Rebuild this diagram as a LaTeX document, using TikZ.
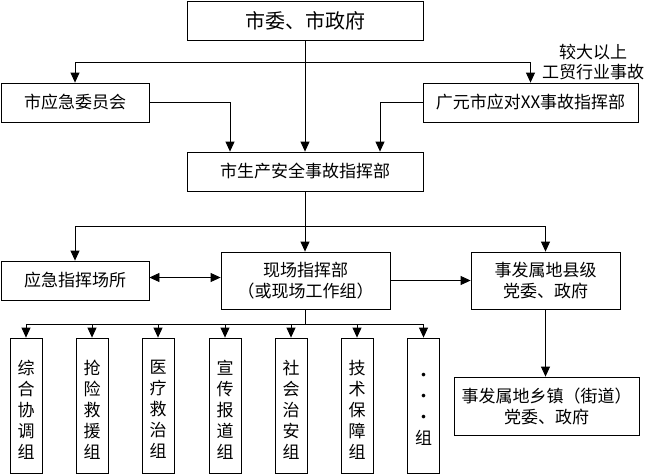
\documentclass[tikz,border=0pt]{standalone}
\usepackage{fontspec}
\setmainfont{Noto Sans CJK SC}
\usetikzlibrary{arrows.meta}
\begin{document}
\begin{tikzpicture}[x=1pt,y=-1pt,
  box/.style={draw, line width=0.8pt, inner sep=0pt, align=center, font=\fontsize{17}{21}\selectfont},
  grp/.style={draw, line width=0.8pt, inner sep=0pt, minimum width=32pt, minimum height=135pt},
  grptxt/.style={inner sep=0pt, align=center, font=\fontsize{17}{21}\selectfont},
  arr/.style={-{Triangle[length=10pt,width=9pt]}, line width=0.8pt},
  arrb/.style={{Triangle[length=10pt,width=9pt]}-{Triangle[length=10pt,width=9pt]}, line width=0.8pt},
  ln/.style={line width=0.8pt}]
\useasboundingbox (0,0) rectangle (656,474);

\node[box, minimum width=236pt, minimum height=39pt, font=\fontsize{20}{24}\selectfont] (top) at (305,20.5) {市委、市政府};
\node[box, minimum width=148pt, minimum height=39pt] (left) at (75,102.5) {市应急委员会};
\node[box, minimum width=215pt, minimum height=39pt] (right) at (530.5,102.5) {广元市应对XX事故指挥部};
\node[align=center, inner sep=0pt, font=\fontsize{17}{20}\selectfont] (note) at (593,62) {较大以上\\工贸行业事故};
\node[box, minimum width=236pt, minimum height=39pt] (center) at (305,171.5) {市生产安全事故指挥部};
\node[box, minimum width=148pt, minimum height=39pt] (place) at (75,280.5) {应急指挥场所};
\node[box, minimum width=169pt, minimum height=57pt] (field) at (305.5,280.5) {现场指挥部\\（或现场工作组）};
\node[box, minimum width=149pt, minimum height=57pt] (county) at (545.5,280.5) {事发属地县级\\党委、政府};
\node[box, minimum width=185pt, minimum height=58pt] (town) at (546.5,406) {事发属地乡镇（街道）\\党委、政府};

\node[grp] (g1) at (26,405.5) {};
\node[grp] (g2) at (92,405.5) {};
\node[grp] (g3) at (158,405.5) {};
\node[grp] (g4) at (225,405.5) {};
\node[grp] (g5) at (291,405.5) {};
\node[grp] (g6) at (357,405.5) {};
\node[grp] (g7) at (423.5,405.5) {};
\node[grptxt] (t1) at ([yshift=-4pt]g1.center) {综\\合\\协\\调\\组};
\node[grptxt] (t2) at ([yshift=-4pt]g2.center) {抢\\险\\救\\援\\组};
\node[grptxt] (t3) at ([yshift=-4pt]g3.center) {医\\疗\\救\\治\\组};
\node[grptxt] (t4) at ([yshift=-4pt]g4.center) {宣\\传\\报\\道\\组};
\node[grptxt] (t5) at ([yshift=-4pt]g5.center) {社\\会\\治\\安\\组};
\node[grptxt] (t6) at ([yshift=-4pt]g6.center) {技\\术\\保\\障\\组};
\node[grptxt] (t7) at ([yshift=-4pt]g7.center) {•\\•\\•\\组};

% top level
\coordinate (j1) at (305,62);
\draw[arr] (top.south) -- (center.north);
\draw[arr] (j1) -| (left.north);
\draw[arr] (j1) -| (right.north);
\draw[arr] (left.east) -| ([xshift=-75pt]center.north);
\draw[arr] (right.west) -| ([xshift=75pt]center.north);

% second level
\coordinate (j2) at (305,226);
\draw[arr] (center.south) -- (field.north -| center.south);
\draw[arr] (j2) -| (place.north);
\draw[arr] (j2) -| (county.north);
\draw[arrb] ([yshift=3pt]place.east) -- ([yshift=3pt]field.west);
\draw[arr] (field.east) -- (county.west);
\draw[arr] (county.south) -- (county.south |- town.north);

% groups
\coordinate (j3) at (305.5,324);
\draw[ln] (field.south) -- (j3);
\foreach \g in {g1,g2,g3,g4,g5,g6,g7} {
  \draw[arr] (j3) -| (\g.north);
}
\end{tikzpicture}
\end{document}
